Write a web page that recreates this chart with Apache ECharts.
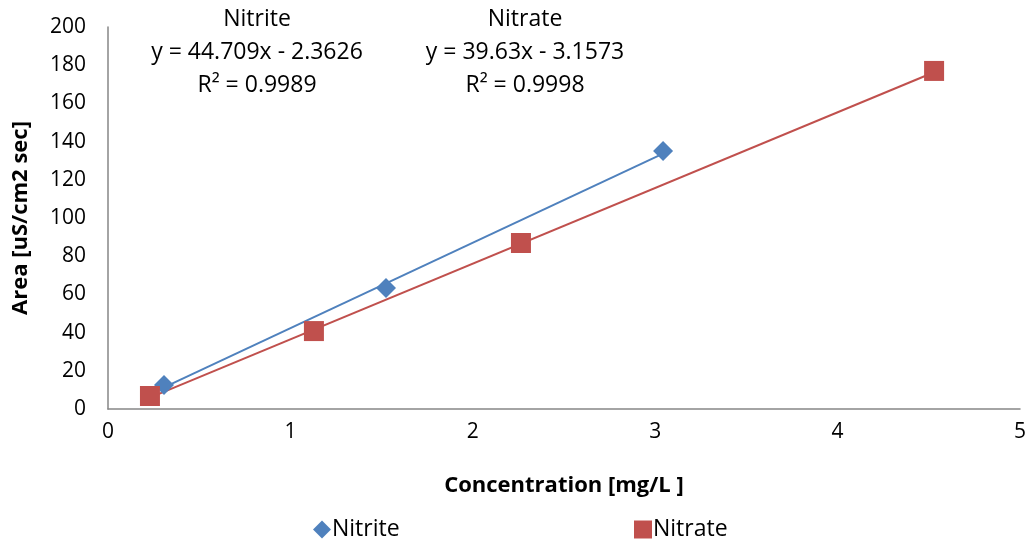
<!DOCTYPE html>
<html>
<head>
<meta charset="utf-8">
<script src="https://cdn.jsdelivr.net/npm/echarts@6/dist/echarts.min.js"></script>
<style>html,body{margin:0;padding:0;background:#fff}#c{width:1029px;height:539px}</style>
</head>
<body>
<div id="c"></div>
<script>
const nitriteX = [0.307, 1.524, 3.043];
const nitriteY = [12.6, 63.4, 135.1];
const nitrateX = [0.230, 1.129, 2.264, 4.529];
const nitrateY = [6.8, 40.8, 86.9, 177.0];
const fitSlope = [44.709, 39.63];
const fitIntercept = [-2.3626, -3.1573];
const fitLabels = [
  ["Nitrite", "y = 44.709x - 2.3626", "R² = 0.9989"],
  ["Nitrate", "y = 39.63x - 3.1573", "R² = 0.9998"]
];
const xTicks = [0, 1, 2, 3, 4, 5];
const yTicks = [0, 20, 40, 60, 80, 100, 120, 140, 160, 180, 200];

const FONT = '"Open Sans", Lato, sans-serif';
const BLUE = '#4F81BD', RED = '#C0504D';

function pts(xs, ys) { return xs.map((x, i) => [x, ys[i]]); }
function trend(xs, k) {
  const lo = Math.min(...xs), hi = Math.max(...xs);
  return [[lo, fitSlope[k] * lo + fitIntercept[k]], [hi, fitSlope[k] * hi + fitIntercept[k]]];
}

const annCenters = [257, 525];
const annTops = [8, 41, 74];
const titles = [];
fitLabels.forEach((lines, k) => {
  lines.forEach((t, j) => {
    titles.push({
      text: t, left: annCenters[k], top: annTops[j], textAlign: 'center', padding: 0,
      textStyle: { color: '#000', fontFamily: FONT, fontSize: 23, fontWeight: 'normal' }
    });
  });
});

const chart = echarts.init(document.getElementById('c'));
chart.setOption({
  animation: false,
  backgroundColor: '#fff',
  title: titles,
  grid: { left: 108, right: 9, top: 27, bottom: 130, containLabel: false },
  xAxis: {
    type: 'value', min: xTicks[0], max: xTicks[xTicks.length - 1], interval: 1,
    splitLine: { show: false },
    axisLine: { show: true, lineStyle: { color: '#868686', width: 1.5 } },
    axisTick: { show: false },
    axisLabel: { color: '#000', fontFamily: FONT, fontSize: 21, margin: 13 },
    name: 'Concentration [mg/L ]', nameLocation: 'middle', nameGap: 66,
    nameTextStyle: { color: '#000', fontFamily: FONT, fontSize: 22, fontWeight: 'bold' }
  },
  yAxis: {
    type: 'value', min: yTicks[0], max: yTicks[yTicks.length - 1], interval: 20,
    splitLine: { show: false },
    axisLine: { show: true, lineStyle: { color: '#868686', width: 1.5 } },
    axisTick: { show: false },
    axisLabel: { color: '#000', fontFamily: FONT, fontSize: 21, margin: 22 },
    name: 'Area [uS/cm2 sec]', nameLocation: 'middle', nameGap: 76, nameRotate: 90,
    nameTextStyle: { color: '#000', fontFamily: FONT, fontSize: 22, fontWeight: 'bold' }
  },
  legend: [
    { data: [{ name: 'Nitrite', icon: 'diamond' }], left: 308, top: 513, itemWidth: 18, itemHeight: 18, itemGap: 6,
      textStyle: { color: '#000', fontFamily: FONT, fontSize: 23, padding: [0, 0, 0, -4] } },
    { data: [{ name: 'Nitrate', icon: 'rect' }], left: 629, top: 513, itemWidth: 18, itemHeight: 18,
      textStyle: { color: '#000', fontFamily: FONT, fontSize: 23, padding: [0, 0, 0, -4] } }
  ],
  series: [
    { name: 'NitriteTrend', type: 'line', data: trend(nitriteX, 0), symbol: 'none',
      lineStyle: { color: BLUE, width: 2 }, z: 2, silent: true },
    { name: 'NitrateTrend', type: 'line', data: trend(nitrateX, 1), symbol: 'none',
      lineStyle: { color: RED, width: 2 }, z: 2, silent: true },
    { name: 'Nitrite', type: 'scatter', data: pts(nitriteX, nitriteY), symbol: 'diamond', symbolSize: 20,
      itemStyle: { color: BLUE, opacity: 1 }, z: 3 },
    { name: 'Nitrate', type: 'scatter', data: pts(nitrateX, nitrateY), symbol: 'rect', symbolSize: 20,
      itemStyle: { color: RED, opacity: 1 }, z: 3 }
  ]
});
</script>
</body>
</html>
